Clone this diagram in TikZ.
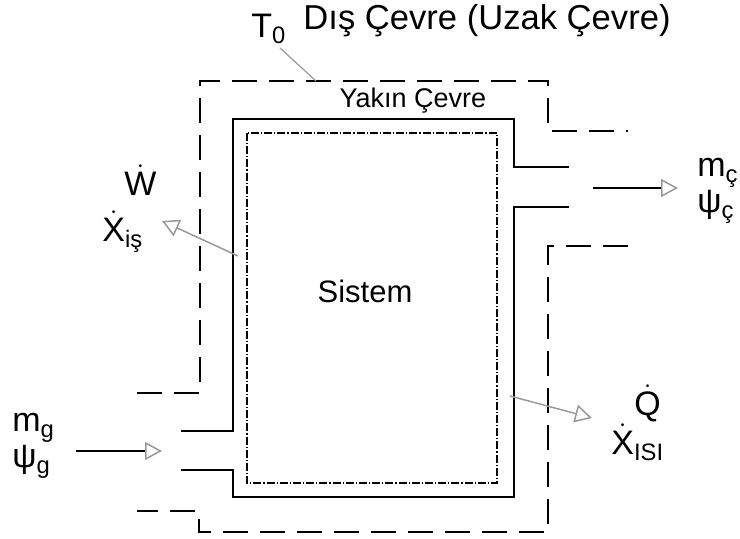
\documentclass[tikz,border=0pt]{standalone}
\usepackage{amsmath}
\usepackage{fontspec}
\setmainfont{Liberation Sans}
\usepackage{tikz}
\usetikzlibrary{arrows.meta, positioning, calc}

\newcommand{\dt}[1]{\ensuremath{\dot{\text{#1}}}}

\begin{document}
\begin{tikzpicture}[
  x=0.5pt, y=-0.5pt,
  wall/.style={line width=1pt, line join=miter},
  farwall/.style={line width=1pt, dash pattern=on 12.5pt off 6pt},
  sysline/.style={line width=0.6pt, dash pattern=on 4pt off 1pt on 0.6pt off 1pt},
  flow/.style={line width=0.75pt, -{Triangle[open, length=8.5pt, width=9pt, color=gray!80]}},
  energy/.style={flow, draw=gray!80},
  lbl/.style={font=\fontsize{17}{19}\selectfont, inner sep=0pt, anchor=base west},
]
  \useasboundingbox (0,0) rectangle (740,539);

  % dis cevre
  \draw[farwall] (137,393) -- (200,393) -- (200,81) -- (548,81) -- (548,131) -- (628,131);
  \draw[farwall] (628,246) -- (548,246) -- (548,532) -- (199,532) -- (199,511) -- (137,511);

  % yakin cevre
  \draw[wall] (181,431) -- (233,431) -- (233,119) -- (514,119) -- (514,167) -- (569,167);
  \draw[wall] (569,207) -- (514,207) -- (514,497) -- (233,497) -- (233,470) -- (181,470);

  % sistem sinari
  \draw[sysline] (247,133) rectangle (497,483);

  \node[font=\fontsize{17.3}{19}\selectfont, inner sep=0pt, anchor=base west] (uzak) at (303,30) {Dış Çevre (Uzak Çevre)};
  \node[lbl] (t0) at (251,38) {T$_{\text{0}}$};
  \node[font=\fontsize{13.5}{15}\selectfont, inner sep=0pt] (yakin) at (413,101) {Yakın Çevre};
  \node[font=\fontsize{15.5}{17}\selectfont] (sis) at (365,291) {Sistem};

  \coordinate (t0a) at (280,48);
  \coordinate (t0b) at (316,81);
  \draw[gray!80, line width=0.6pt] (t0a) -- (t0b);

  % giren akis
  \node[lbl] (mg) at (12,432) {m$_{\text{g}}$};
  \node[lbl] (pg) at (12,468) {ψ$_{\text{g}}$};
  \coordinate (gin) at (76,451);
  \coordinate (gout) at (162,451);
  \draw[flow] (gin) -- (gout);

  % cikan akis
  \node[lbl] (mc) at (697,177) {m$_{\text{ç}}$};
  \node[lbl] (pc) at (697,213) {ψ$_{\text{ç}}$};
  \coordinate (cin) at (593,188);
  \coordinate (cout) at (678,188);
  \draw[flow] (cin) -- (cout);

  % is
  \node[lbl] (w) at (124,196) {\dt{W}};
  \node[lbl] (xis) at (102,242) {\dt{X}$_{\text{iş}}$};
  \coordinate (win) at (238,256);
  \coordinate (wout) at (162,221);
  \draw[energy] (win) -- (wout);

  % isi
  \node[lbl] (q) at (634,416) {\dt{Q}};
  \node[lbl] (xisi) at (611,455) {\dt{X}$_{\text{ISI}}$};
  \coordinate (qin) at (510,396);
  \coordinate (qout) at (592,418);
  \draw[energy] (qin) -- (qout);
\end{tikzpicture}
\end{document}
